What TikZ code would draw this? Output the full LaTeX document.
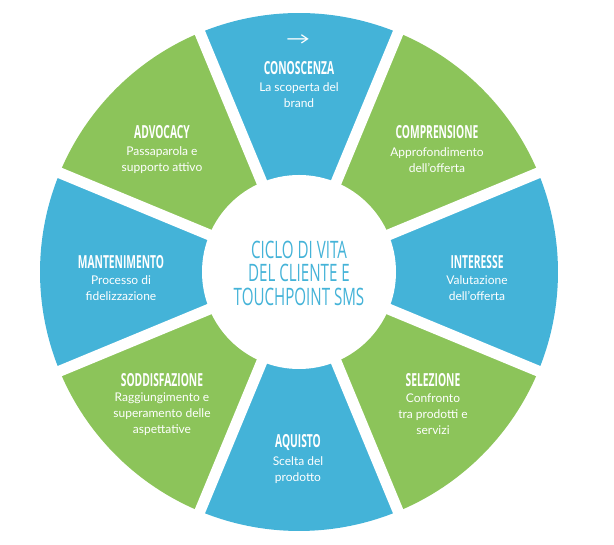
\documentclass[tikz,border=0pt]{standalone}
\usepackage{graphicx}
\usepackage{fontspec}
\setmainfont{Lato}
\newfontfamily\titlefont{Open Sans}
\newfontfamily\symfont{DejaVu Sans}
\definecolor{segblue}{HTML}{44B3D8}
\definecolor{seggreen}{HTML}{8CC45A}
\newcommand\segtitle[1]{\scalebox{0.63}[1]{#1}}
\newcommand\segbold[1]{\scalebox{0.57}[1]{\bfseries #1}}
\begin{document}
\begin{tikzpicture}[x=1pt,y=1pt,
  ttl/.style={text=white,inner sep=0pt,font=\titlefont\fontsize{18}{18}\selectfont},
  bdy/.style={text=white,inner sep=0pt,align=center,font=\fontsize{12}{16}\selectfont},
  ctr/.style={text=segblue,inner sep=0pt,font=\titlefont\fontsize{24}{24}\selectfont}]
\useasboundingbox (0,0) rectangle (614,545);
\coordinate (C) at (299,273);
\foreach \i in {0,...,7}{
  \pgfmathsetmacro\a{90-45*\i}
  \pgfmathsetmacro\s{\a-22.5}
  \pgfmathsetmacro\e{\a+22.5}
  \ifodd\i \def\col{seggreen}\else\def\col{segblue}\fi
  \fill[\col] (C) -- ++(\s:259) arc[start angle=\s, end angle=\e, radius=259] -- cycle;
}
\foreach \a in {22.5,67.5,...,337.5}{
  \draw[white,line width=11pt] (C) -- ++(\a:275);
}
\fill[white] (C) circle[radius=97];
% texts
\node[text=white,inner sep=0pt,font=\fontsize{16}{16}\selectfont] (arr) at (298,505) {\scalebox{1.5}[1]{→}};
\node[ttl] (t1) at (299,477) {\segbold{CONOSCENZA}};
\node[bdy] (b1) at (299,450) {La scoperta del\\brand};
\node[ttl] (t2) at (437,413) {\segbold{COMPRENSIONE}};
\node[bdy] (b2) at (437,385) {Approfondimento\\dell’offerta};
\node[ttl] (t3) at (477,283) {\segbold{INTERESSE}};
\node[bdy] (b3) at (477,257) {Valutazione\\dell’offerta};
\node[ttl] (t4) at (433,165) {\segbold{SELEZIONE}};
\node[bdy] (b4) at (433,131) {Confronto\\tra prodotti e\\servizi};
\node[ttl] (t5) at (298,102) {\segbold{AQUISTO}};
\node[bdy] (b5) at (298,75) {Scelta del\\prodotto};
\node[ttl] (t6) at (162,165) {\segbold{SODDISFAZIONE}};
\node[bdy] (b6) at (162,131) {Raggiungimento e\\superamento delle\\aspettative};
\node[ttl] (t7) at (121,283) {\segbold{MANTENIMENTO}};
\node[bdy] (b7) at (121,257) {Processo di\\fidelizzazione};
\node[ttl] (t8) at (162,413) {\segbold{ADVOCACY}};
\node[bdy] (b8) at (162,385) {Passaparola e\\supporto attivo};
\node[ctr] (c1) at (299,295.5) {\segtitle{CICLO DI VITA}};
\node[ctr] (c2) at (299,272) {\segtitle{DEL CLIENTE E}};
\node[ctr] (c3) at (299,248.5) {\segtitle{TOUCHPOINT SMS}};
\end{tikzpicture}
\end{document}
